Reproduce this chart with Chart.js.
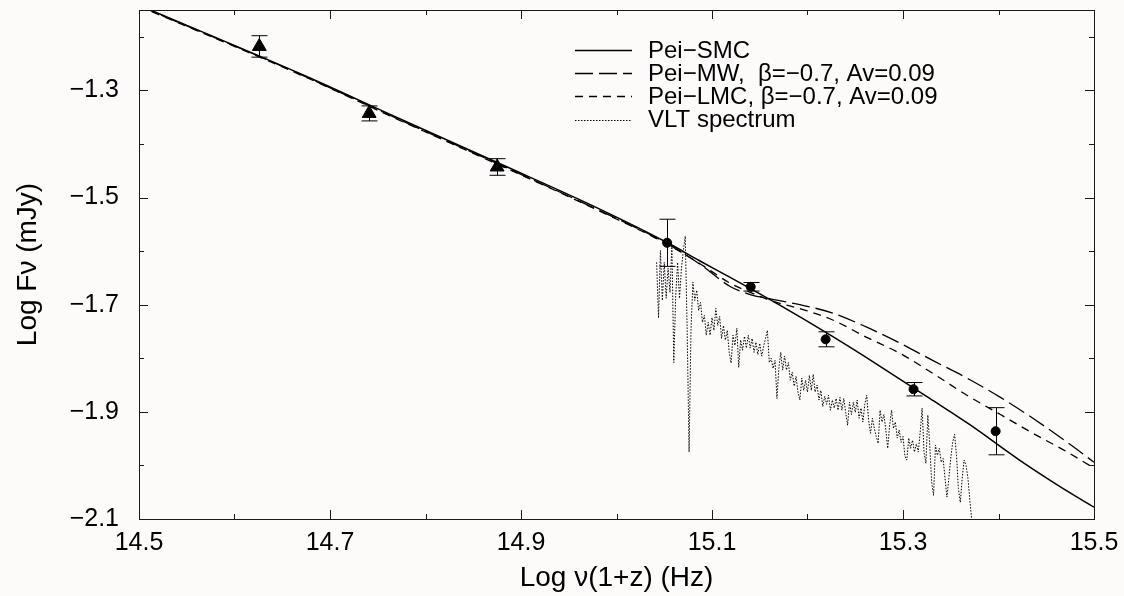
<!DOCTYPE html>
<html>
<head>
<meta charset="utf-8">
<title>Afterglow SED</title>
<script src="https://cdn.jsdelivr.net/npm/chart.js@4.4.0/dist/chart.umd.min.js"></script>
<style>
  html, body { margin: 0; padding: 0; background: #fdfafa; }
</style>
</head>
<body>
<canvas id="sed" width="1124" height="596"></canvas>
<script>
// photometry (log flux with errors)
const triX = [14.626, 14.741, 14.875];
const triY = [-1.218, -1.343, -1.443];
const triErr = [0.02, 0.014, 0.0155];

const dotX = [15.053, 15.1405, 15.219, 15.311, 15.397];
const dotY = [-1.5845, -1.6666, -1.7646, -1.8578, -1.9362];
const dotErr = [0.044, 0.008, 0.014, 0.0125, 0.044];

// extinction curves
const smcX = [14.5, 14.669, 14.773, 14.878, 14.983, 15.053, 15.087, 15.119, 15.171, 15.224, 15.276, 15.328, 15.37, 15.422, 15.464, 15.5];
const smcY = [-1.141, -1.269, -1.353, -1.437, -1.522, -1.584, -1.618, -1.649, -1.701, -1.757, -1.815, -1.875, -1.924, -1.99, -2.039, -2.078];

const mwX = [14.5, 14.669, 14.773, 14.878, 14.983, 15.053, 15.087, 15.119, 15.14, 15.161, 15.192, 15.227, 15.262, 15.297, 15.331, 15.367, 15.402, 15.436, 15.472, 15.5];
const mwY = [-1.142, -1.27, -1.355, -1.439, -1.525, -1.586, -1.624, -1.666, -1.681, -1.689, -1.7, -1.716, -1.742, -1.772, -1.804, -1.837, -1.873, -1.912, -1.957, -1.994];

const lmcX = [14.5, 14.669, 14.773, 14.878, 14.983, 15.053, 15.087, 15.119, 15.14, 15.161, 15.197, 15.227, 15.262, 15.297, 15.331, 15.367, 15.402, 15.436, 15.472, 15.5];
const lmcY = [-1.143, -1.271, -1.356, -1.44, -1.526, -1.587, -1.623, -1.66, -1.677, -1.692, -1.71, -1.729, -1.761, -1.791, -1.828, -1.869, -1.905, -1.94, -1.975, -2.005];

// VLT spectrum
const specX = [
  15.042, 15.044, 15.046, 15.048, 15.050, 15.052, 15.054, 15.056, 15.058, 15.060,
  15.062, 15.064, 15.066, 15.068, 15.070, 15.072, 15.074, 15.076, 15.078, 15.080,
  15.082, 15.084, 15.086, 15.088, 15.090, 15.092, 15.094, 15.096, 15.098, 15.100,
  15.102, 15.104, 15.106, 15.108, 15.110, 15.112, 15.114, 15.116, 15.118, 15.120,
  15.122, 15.124, 15.126, 15.128, 15.130, 15.132, 15.134, 15.136, 15.138, 15.140,
  15.142, 15.144, 15.146, 15.148, 15.150, 15.152, 15.154, 15.156, 15.158, 15.160,
  15.162, 15.164, 15.166, 15.168, 15.170, 15.172, 15.174, 15.176, 15.178, 15.180,
  15.182, 15.184, 15.186, 15.188, 15.190, 15.192, 15.194, 15.196, 15.198, 15.200,
  15.202, 15.204, 15.206, 15.208, 15.210, 15.212, 15.214, 15.216, 15.218, 15.220,
  15.222, 15.224, 15.226, 15.228, 15.230, 15.232, 15.234, 15.236, 15.238, 15.240,
  15.242, 15.244, 15.246, 15.248, 15.250, 15.252, 15.254, 15.256, 15.258, 15.260,
  15.262, 15.264, 15.266, 15.268, 15.270, 15.272, 15.274, 15.276, 15.278, 15.280,
  15.282, 15.284, 15.286, 15.288, 15.290, 15.292, 15.294, 15.296, 15.298, 15.300,
  15.302, 15.304, 15.306, 15.308, 15.310, 15.312, 15.314, 15.316, 15.318, 15.320,
  15.322, 15.324, 15.326, 15.328, 15.330, 15.332, 15.334, 15.336, 15.338, 15.340,
  15.342, 15.344, 15.346, 15.348, 15.350, 15.352, 15.354, 15.356, 15.358, 15.360,
  15.362, 15.364, 15.366, 15.368, 15.370, 15.372, 15.374
];
const specY = [
  -1.621, -1.725, -1.599, -1.692, -1.621, -1.688, -1.632, -1.677, -1.589, -1.808,
  -1.683, -1.621, -1.688, -1.632, -1.599, -1.572, -1.748, -1.975, -1.748, -1.658,
  -1.692, -1.673, -1.711, -1.696, -1.733, -1.720, -1.757, -1.733, -1.757, -1.724,
  -1.748, -1.707, -1.739, -1.722, -1.763, -1.739, -1.766, -1.748, -1.789, -1.809,
  -1.757, -1.776, -1.744, -1.817, -1.766, -1.785, -1.759, -1.781, -1.757, -1.781,
  -1.763, -1.789, -1.770, -1.793, -1.772, -1.796, -1.778, -1.763, -1.748, -1.808,
  -1.800, -1.819, -1.804, -1.875, -1.819, -1.789, -1.822, -1.796, -1.822, -1.808,
  -1.841, -1.826, -1.852, -1.834, -1.863, -1.878, -1.837, -1.860, -1.841, -1.863,
  -1.832, -1.860, -1.830, -1.863, -1.850, -1.878, -1.860, -1.890, -1.871, -1.886,
  -1.869, -1.897, -1.878, -1.893, -1.875, -1.897, -1.873, -1.897, -1.875, -1.901,
  -1.925, -1.882, -1.905, -1.882, -1.901, -1.878, -1.912, -1.893, -1.919, -1.886,
  -1.869, -1.916, -1.940, -1.912, -1.931, -1.946, -1.959, -1.897, -1.919, -1.905,
  -1.934, -1.968, -1.925, -1.897, -1.931, -1.919, -1.949, -1.934, -1.957, -1.946,
  -1.983, -1.990, -1.949, -1.968, -1.953, -1.975, -1.960, -1.975, -1.938, -1.893,
  -1.975, -1.996, -1.906, -1.962, -2.031, -2.056, -1.962, -1.981, -1.968, -1.994,
  -1.987, -2.024, -2.059, -2.024, -1.987, -1.957, -1.942, -1.981, -2.043, -2.069,
  -2.024, -1.990, -2.000, -2.024, -2.065, -2.102, -2.121
];

// axis ranges
const xMin = 14.5, xMax = 15.5, xStep = 0.1;
const yMin = -2.1, yMax = -1.15, yStep = 0.1;

const FONT = "'Liberation Sans', Arial, Helvetica, sans-serif";

const pairs = (xs, ys) => xs.map((x, i) => ({ x: x, y: ys[i] }));
// every second tick (odd tenths) gets a label
const isMajor = (v) => Math.abs(Math.round(v * 10)) % 2 === 1;
const fmt = (v) => v.toFixed(1).replace("-", "\u2212");

// inward ticks on all four sides + the frame
const frameTicks = {
  id: "frameTicks",
  afterDraw(chart) {
    const { ctx, chartArea: a, scales } = chart;
    const x = scales.x, y = scales.y;
    ctx.save();
    ctx.strokeStyle = "#1a1a1a";
    ctx.lineWidth = 1;
    ctx.beginPath();
    x.ticks.forEach((t) => {
      const px = Math.round(x.getPixelForValue(t.value)) + 0.5;
      const len = isMajor(t.value) ? 9 : 5;
      ctx.moveTo(px, a.bottom);
      ctx.lineTo(px, a.bottom - len);
      ctx.moveTo(px, a.top);
      ctx.lineTo(px, a.top + len);
    });
    y.ticks.forEach((t) => {
      const py = Math.round(y.getPixelForValue(t.value)) + 0.5;
      const len = isMajor(t.value) ? 9 : 5;
      ctx.moveTo(a.left, py);
      ctx.lineTo(a.left + len, py);
      ctx.moveTo(a.right, py);
      ctx.lineTo(a.right - len, py);
    });
    ctx.stroke();
    ctx.strokeRect(Math.round(a.left) + 0.5, Math.round(a.top) + 0.5,
      Math.round(a.right - a.left), Math.round(a.bottom - a.top));
    ctx.restore();
  },
};

// error bars with caps, under the markers
const errorBars = {
  id: "errorBars",
  beforeDatasetsDraw(chart) {
    const { ctx, scales } = chart;
    const x = scales.x, y = scales.y;
    const cap = 8;
    ctx.save();
    ctx.strokeStyle = "#000";
    ctx.lineWidth = 1;
    const draw = (xs, ys, es) => {
      xs.forEach((v, i) => {
        const px = Math.round(x.getPixelForValue(v)) + 0.5;
        const top = y.getPixelForValue(ys[i] + es[i]);
        const bot = y.getPixelForValue(ys[i] - es[i]);
        ctx.beginPath();
        ctx.moveTo(px, top);
        ctx.lineTo(px, bot);
        ctx.moveTo(px - cap, top);
        ctx.lineTo(px + cap, top);
        ctx.moveTo(px - cap, bot);
        ctx.lineTo(px + cap, bot);
        ctx.stroke();
      });
    };
    draw(triX, triY, triErr);
    draw(dotX, dotY, dotErr);
    ctx.restore();
  },
};

// key in the upper right of the plot
const keyBox = {
  id: "keyBox",
  afterDraw(chart) {
    const { ctx } = chart;
    const rows = chart.data.datasets.filter((d) => d.inKey);
    ctx.save();
    ctx.font = "24px " + FONT;
    ctx.textBaseline = "middle";
    ctx.textAlign = "left";
    ctx.fillStyle = "#000";
    rows.forEach((d, i) => {
      const yy = 50 + i * 23.2;
      ctx.beginPath();
      ctx.setLineDash(d.borderDash || []);
      ctx.lineWidth = d.borderWidth;
      ctx.strokeStyle = "#000";
      ctx.moveTo(575, Math.round(yy) + 0.5);
      ctx.lineTo(632, Math.round(yy) + 0.5);
      ctx.stroke();
      ctx.setLineDash([]);
      ctx.fillText(d.label, 648, yy + 1);
    });
    ctx.restore();
  },
};

const curve = (label, xs, ys, dash, width) => ({
  label: label,
  inKey: true,
  data: pairs(xs, ys),
  showLine: true,
  borderColor: "#000",
  borderWidth: width,
  borderDash: dash,
  pointRadius: 0,
  cubicInterpolationMode: "monotone",
  fill: false,
});

new Chart("sed", {
  type: "scatter",
  data: {
    datasets: [
      {
        label: "triangles",
        data: pairs(triX, triY),
        pointStyle: "triangle",
        pointRadius: 8,
        backgroundColor: "#000",
        borderColor: "#000",
        borderWidth: 1,
      },
      {
        label: "dots",
        data: pairs(dotX, dotY),
        pointStyle: "circle",
        pointRadius: 4.5,
        backgroundColor: "#000",
        borderColor: "#000",
        borderWidth: 1,
      },
      curve("Pei\u2212SMC", smcX, smcY, [], 1.5),
      curve("Pei\u2212MW,  \u03b2=\u22120.7, Av=0.09", mwX, mwY, [18, 6], 1.3),
      curve("Pei\u2212LMC, \u03b2=\u22120.7, Av=0.09", lmcX, lmcY, [8, 6], 1.3),
      {
        label: "VLT spectrum",
        inKey: true,
        data: pairs(specX, specY),
        showLine: true,
        borderColor: "#000",
        borderWidth: 1,
        borderDash: [1.5, 1.5],
        pointRadius: 0,
        tension: 0,
      },
    ],
  },
  options: {
    responsive: false,
    animation: false,
    layout: { padding: { left: 0, top: 10, right: 30, bottom: 0 } },
    plugins: {
      legend: { display: false },
      tooltip: { enabled: false },
    },
    scales: {
      x: {
        type: "linear",
        min: xMin,
        max: xMax,
        grid: { display: false, drawTicks: false },
        border: { display: false },
        ticks: {
          stepSize: xStep,
          autoSkip: false,
          maxRotation: 0,
          padding: 9,
          color: "#000",
          font: { family: FONT, size: 25 },
          callback: (v) => (isMajor(v) ? fmt(v) : ""),
        },
        title: {
          display: true,
          text: "Log \u03bd(1+z) (Hz)",
          color: "#000",
          font: { family: FONT, size: 28 },
          padding: { top: 0, bottom: 1 },
        },
        afterFit: (s) => {
          s.height = 77;
          s.paddingLeft = 0;
          s.paddingRight = 0;
        },
      },
      y: {
        type: "linear",
        min: yMin,
        max: yMax,
        grid: { display: false, drawTicks: false },
        border: { display: false },
        ticks: {
          stepSize: yStep,
          includeBounds: false,
          autoSkip: false,
          padding: 20,
          color: "#000",
          font: { family: FONT, size: 25 },
          callback: (v) => (isMajor(v) ? fmt(v) : ""),
        },
        title: {
          display: true,
          text: "Log F\u03bd (mJy)",
          color: "#000",
          font: { family: FONT, size: 28 },
          padding: { top: 11, bottom: 0 },
        },
        afterFit: (s) => {
          s.width = 139;
          s.paddingTop = 0;
          s.paddingBottom = 0;
        },
      },
    },
  },
  plugins: [errorBars, frameTicks, keyBox],
});
</script>
</body>
</html>
